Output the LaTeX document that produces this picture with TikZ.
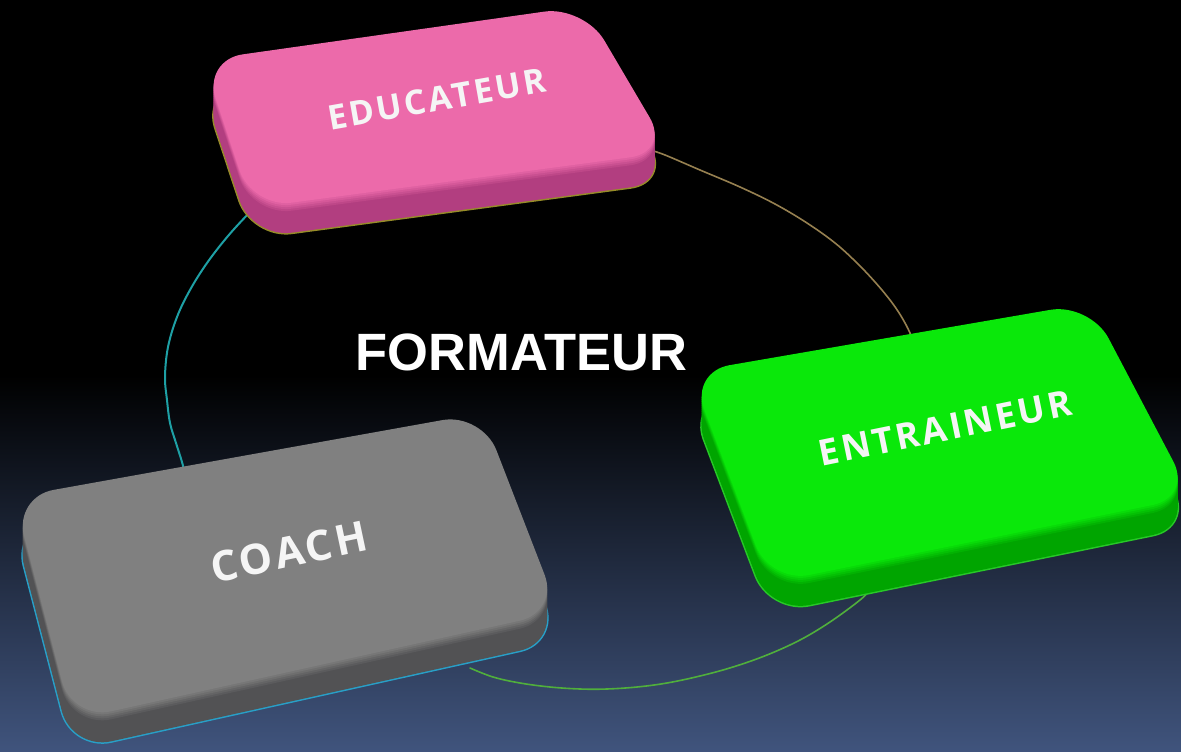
\documentclass[tikz,border=0pt]{standalone}
\usepackage{fontspec}
\setmainfont{Liberation Sans}
\newfontfamily\lblfont[LetterSpace=8]{Open Sans}
\usetikzlibrary{calc}
\definecolor{bgbot}{RGB}{64,84,125}
\definecolor{pinktop}{RGB}{236,106,170}
\definecolor{pinkside}{RGB}{178,62,128}
\definecolor{pinkedge}{RGB}{150,140,40}
\definecolor{greentop}{RGB}{10,232,10}
\definecolor{greenside}{RGB}{0,165,0}
\definecolor{greenedge}{RGB}{40,200,40}
\definecolor{greytop}{RGB}{128,128,128}
\definecolor{greyside}{RGB}{82,82,84}
\definecolor{greyedge}{RGB}{40,160,200}
\definecolor{arcteal}{RGB}{30,160,165}
\definecolor{arctan}{RGB}{150,128,80}
\definecolor{arcgreen}{RGB}{80,175,60}
\definecolor{lbltext}{RGB}{245,245,245}
\newcommand\myslab[7]{%
  \draw[#7, line width=3, rounded corners=40, shift={(0,30)}] (#1) -- (#2) -- (#3) -- (#4) -- cycle;
  \foreach \d in {30,28,...,0}{%
    \pgfmathtruncatemacro\mixv{\d>10 ? 0 : (10-\d)*10}%
    \fill[#6!\mixv!#5, rounded corners=40, shift={(0,\d)}] (#1) -- (#2) -- (#3) -- (#4) -- cycle;
  }%
}
\tikzset{
  lbl/.style={text=lbltext, inner sep=0pt},
  ring/.style={line width=2, line cap=round},
}
\begin{document}
\begin{tikzpicture}[x=1pt,y=-1pt]
\useasboundingbox (0,0) rectangle (1181,752);
% background
\fill[black] (0,0) rectangle (1181,752);
\shade[top color=black, bottom color=bgbot] (0,375) rectangle (1181,752);
% ring arcs
\coordinate (lA) at (262,200);
\coordinate (lB) at (186,478);
\draw[ring, arcteal] plot[smooth, tension=0.6] coordinates {(lA) (250,212) (228,236) (207,263) (190,290) (177,317) (168,347) (165,377) (167,400) (170,423) (176,443) (182,462) (lB)};
\coordinate (tA) at (650,150);
\coordinate (tB) at (915,348);
\draw[ring, arctan, line width=1.6] plot[smooth, tension=0.6] coordinates {(tA) (665,155) (700,170) (740,187) (775,204) (807,223) (835,243) (857,263) (875,282) (890,300) (901,316) (910,333) (tB)};
\coordinate (bA) at (470,668);
\coordinate (bB) at (872,588);
\draw[ring, arcgreen, line width=1.6] plot[smooth, tension=0.6] coordinates {(bA) (493,677) (520,683) (550,687) (580,689) (607,689) (637,687) (667,683) (700,676) (733,667) (767,655) (800,640) (830,622) (860,600) (bB)};
% slabs
\myslab{203,60}{584,6}{670,152}{252,208}{pinkside}{pinktop}{pinkedge}
\myslab{690,372}{1090,303}{1192,497}{770,583}{greenside}{greentop}{greenedge}
\myslab{14,497}{482,413}{559,612}{72,720}{greyside}{greytop}{greyedge}
% labels
\node[lbl, rotate=10, font=\lblfont\bfseries\fontsize{34}{34}\selectfont] (educ) at (437,99) {EDUCATEUR};
\node[lbl, rotate=11.5, font=\lblfont\bfseries\fontsize{36}{36}\selectfont] (entr) at (945,428) {ENTRAINEUR};
\node[lbl, rotate=12, font=\lblfont\bfseries\fontsize{42}{42}\selectfont] (coach) at (289,552) {COACH};
% centre title
\node[text=white, inner sep=0pt, font=\bfseries\fontsize{52.5}{52.5}\selectfont] (form) at (521.5,352.5) {FORMATEUR};
\end{tikzpicture}
\end{document}
